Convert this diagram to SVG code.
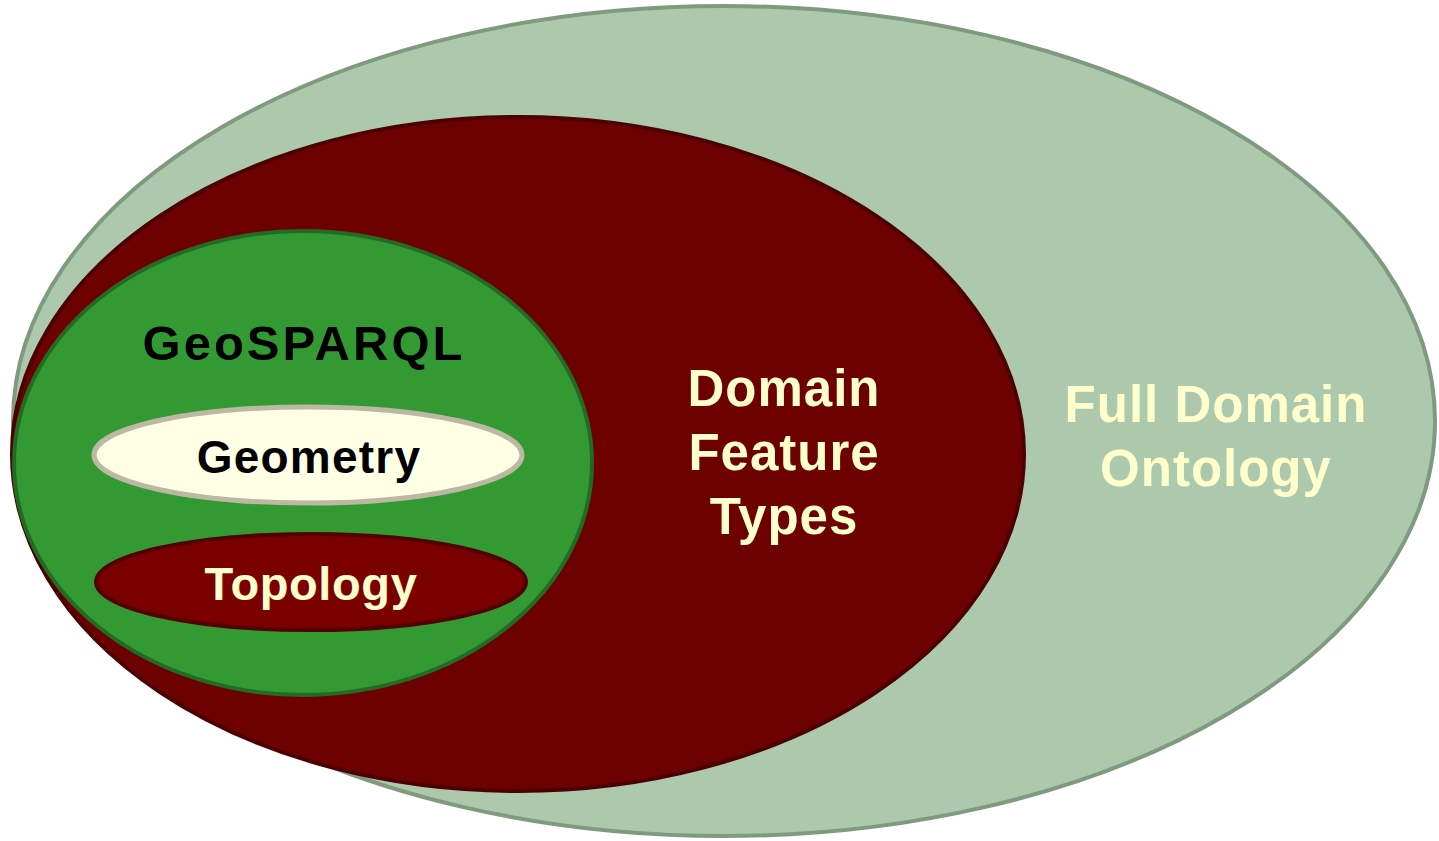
<svg xmlns="http://www.w3.org/2000/svg" width="1439" height="841" viewBox="0 0 1439 841">
<style>
.t{font-family:"Liberation Sans",Arial,sans-serif;font-weight:bold;text-anchor:middle}
.cream{fill:#ffffcc}
.big{font-size:51px;letter-spacing:1px}
</style>
<rect width="1439" height="841" fill="#ffffff"/>
<g id="full-domain-ontology">
<ellipse cx="724" cy="421" rx="711" ry="415" fill="#adc9ad" stroke="#7f9a7f" stroke-width="4"/>
<text class="t cream big" x="1216" y="422">Full Domain</text>
<text class="t cream big" x="1216" y="486">Ontology</text>
</g>
<g id="domain-feature-types">
<ellipse cx="518" cy="454" rx="506" ry="337" fill="#6d0000" stroke="#4d0000" stroke-width="4"/>
<text class="t cream big" x="784" y="406">Domain</text>
<text class="t cream big" x="784" y="470">Feature</text>
<text class="t cream big" x="784" y="534">Types</text>
</g>
<g id="geosparql">
<ellipse cx="303" cy="463" rx="289" ry="232" fill="#339933" stroke="#226b22" stroke-width="4"/>
<text class="t" x="304" y="360" font-size="49" letter-spacing="3" fill="#000000">GeoSPARQL</text>
</g>
<g id="geometry">
<ellipse cx="308" cy="455" rx="214" ry="48" fill="#ffffe6" stroke="#bcb8a3" stroke-width="5"/>
<text class="t" x="309" y="473" font-size="46" letter-spacing="1.2" fill="#000000">Geometry</text>
</g>
<g id="topology">
<ellipse cx="311" cy="582" rx="215" ry="48" fill="#7a0000" stroke="#550000" stroke-width="4"/>
<text class="t cream" x="311" y="600" font-size="47" letter-spacing="0.6">Topology</text>
</g>
<g id="connectors"/>
</svg>
